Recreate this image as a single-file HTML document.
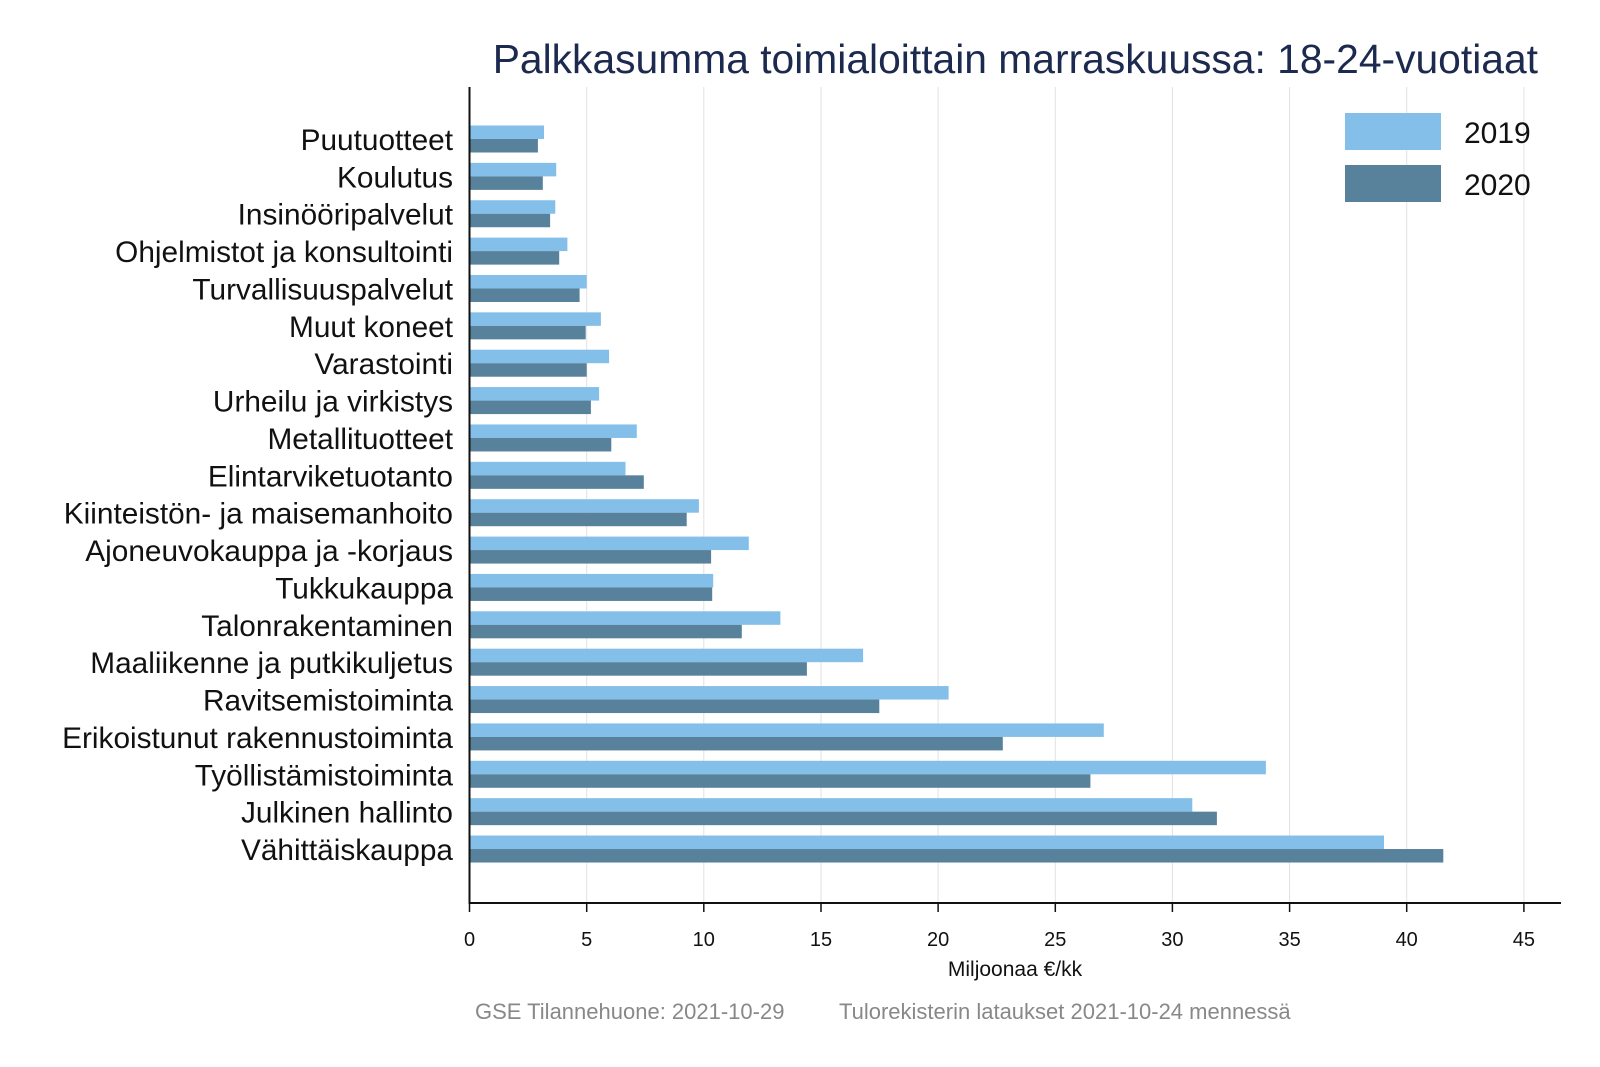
<!DOCTYPE html>
<html><head><meta charset="utf-8"><style>
html,body{margin:0;padding:0;background:#fff;}
svg{display:block;font-family:"Liberation Sans",sans-serif;}
</style></head><body>
<svg width="1600" height="1067" viewBox="0 0 1600 1067" xmlns="http://www.w3.org/2000/svg">
<rect width="1600" height="1067" fill="#fff"/>
<text x="1538" y="73" text-anchor="end" font-size="40.8" fill="#1c2a4f">Palkkasumma toimialoittain marraskuussa: 18-24-vuotiaat</text>
<g stroke="#e2e2e2" stroke-width="1">
<line x1="586.7" y1="87" x2="586.7" y2="903"/><line x1="703.8" y1="87" x2="703.8" y2="903"/>
<line x1="821" y1="87" x2="821" y2="903"/><line x1="938.1" y1="87" x2="938.1" y2="903"/>
<line x1="1055.3" y1="87" x2="1055.3" y2="903"/><line x1="1172.4" y1="87" x2="1172.4" y2="903"/>
<line x1="1289.6" y1="87" x2="1289.6" y2="903"/><line x1="1406.7" y1="87" x2="1406.7" y2="903"/>
<line x1="1523.9" y1="87" x2="1523.9" y2="903"/>
</g>
<g font-size="29.8" fill="#111" text-anchor="end">
<g transform="translate(0,139)"><rect x="469.5" y="-13.5" width="74.5" height="13.5" fill="#83bfe9"/><rect x="469.5" y="0" width="68.4" height="13.5" fill="#58819b"/><text x="453" y="11">Puutuotteet</text></g>
<g transform="translate(0,176.37)"><rect x="469.5" y="-13.5" width="86.7" height="13.5" fill="#83bfe9"/><rect x="469.5" y="0" width="73.3" height="13.5" fill="#58819b"/><text x="453" y="11">Koulutus</text></g>
<g transform="translate(0,213.74)"><rect x="469.5" y="-13.5" width="85.8" height="13.5" fill="#83bfe9"/><rect x="469.5" y="0" width="80.6" height="13.5" fill="#58819b"/><text x="453" y="11">Insinööripalvelut</text></g>
<g transform="translate(0,251.11)"><rect x="469.5" y="-13.5" width="97.9" height="13.5" fill="#83bfe9"/><rect x="469.5" y="0" width="89.7" height="13.5" fill="#58819b"/><text x="453" y="11">Ohjelmistot ja konsultointi</text></g>
<g transform="translate(0,288.48)"><rect x="469.5" y="-13.5" width="117.2" height="13.5" fill="#83bfe9"/><rect x="469.5" y="0" width="110.1" height="13.5" fill="#58819b"/><text x="453" y="11">Turvallisuuspalvelut</text></g>
<g transform="translate(0,325.85)"><rect x="469.5" y="-13.5" width="131.4" height="13.5" fill="#83bfe9"/><rect x="469.5" y="0" width="116.2" height="13.5" fill="#58819b"/><text x="453" y="11">Muut koneet</text></g>
<g transform="translate(0,363.22)"><rect x="469.5" y="-13.5" width="139.6" height="13.5" fill="#83bfe9"/><rect x="469.5" y="0" width="117.2" height="13.5" fill="#58819b"/><text x="453" y="11">Varastointi</text></g>
<g transform="translate(0,400.59)"><rect x="469.5" y="-13.5" width="129.6" height="13.5" fill="#83bfe9"/><rect x="469.5" y="0" width="121.4" height="13.5" fill="#58819b"/><text x="453" y="11">Urheilu ja virkistys</text></g>
<g transform="translate(0,437.96)"><rect x="469.5" y="-13.5" width="167.3" height="13.5" fill="#83bfe9"/><rect x="469.5" y="0" width="141.8" height="13.5" fill="#58819b"/><text x="453" y="11">Metallituotteet</text></g>
<g transform="translate(0,475.33)"><rect x="469.5" y="-13.5" width="156.0" height="13.5" fill="#83bfe9"/><rect x="469.5" y="0" width="174.3" height="13.5" fill="#58819b"/><text x="453" y="11">Elintarviketuotanto</text></g>
<g transform="translate(0,512.7)"><rect x="469.5" y="-13.5" width="229.4" height="13.5" fill="#83bfe9"/><rect x="469.5" y="0" width="217.2" height="13.5" fill="#58819b"/><text x="453" y="11">Kiinteistön- ja maisemanhoito</text></g>
<g transform="translate(0,550.07)"><rect x="469.5" y="-13.5" width="279.3" height="13.5" fill="#83bfe9"/><rect x="469.5" y="0" width="241.6" height="13.5" fill="#58819b"/><text x="453" y="11">Ajoneuvokauppa ja -korjaus</text></g>
<g transform="translate(0,587.44)"><rect x="469.5" y="-13.5" width="243.7" height="13.5" fill="#83bfe9"/><rect x="469.5" y="0" width="242.7" height="13.5" fill="#58819b"/><text x="453" y="11">Tukkukauppa</text></g>
<g transform="translate(0,624.81)"><rect x="469.5" y="-13.5" width="310.9" height="13.5" fill="#83bfe9"/><rect x="469.5" y="0" width="272.3" height="13.5" fill="#58819b"/><text x="453" y="11">Talonrakentaminen</text></g>
<g transform="translate(0,662.18)"><rect x="469.5" y="-13.5" width="393.6" height="13.5" fill="#83bfe9"/><rect x="469.5" y="0" width="337.4" height="13.5" fill="#58819b"/><text x="453" y="11">Maaliikenne ja putkikuljetus</text></g>
<g transform="translate(0,699.55)"><rect x="469.5" y="-13.5" width="479.1" height="13.5" fill="#83bfe9"/><rect x="469.5" y="0" width="409.8" height="13.5" fill="#58819b"/><text x="453" y="11">Ravitsemistoiminta</text></g>
<g transform="translate(0,736.92)"><rect x="469.5" y="-13.5" width="634.3" height="13.5" fill="#83bfe9"/><rect x="469.5" y="0" width="533.3" height="13.5" fill="#58819b"/><text x="453" y="11">Erikoistunut rakennustoiminta</text></g>
<g transform="translate(0,774.29)"><rect x="469.5" y="-13.5" width="796.4" height="13.5" fill="#83bfe9"/><rect x="469.5" y="0" width="620.9" height="13.5" fill="#58819b"/><text x="453" y="11">Työllistämistoiminta</text></g>
<g transform="translate(0,811.66)"><rect x="469.5" y="-13.5" width="722.8" height="13.5" fill="#83bfe9"/><rect x="469.5" y="0" width="747.4" height="13.5" fill="#58819b"/><text x="453" y="11">Julkinen hallinto</text></g>
<g transform="translate(0,849.03)"><rect x="469.5" y="-13.5" width="914.5" height="13.5" fill="#83bfe9"/><rect x="469.5" y="0" width="973.8" height="13.5" fill="#58819b"/><text x="453" y="11">Vähittäiskauppa</text></g>
</g>
<line x1="469.5" y1="87" x2="469.5" y2="904" stroke="#111" stroke-width="2"/>
<line x1="468.5" y1="903" x2="1561" y2="903" stroke="#111" stroke-width="2"/>
<g stroke="#111" stroke-width="1.5">
<line x1="469.5" y1="903" x2="469.5" y2="912"/><line x1="586.7" y1="903" x2="586.7" y2="912"/>
<line x1="703.8" y1="903" x2="703.8" y2="912"/><line x1="821" y1="903" x2="821" y2="912"/>
<line x1="938.1" y1="903" x2="938.1" y2="912"/><line x1="1055.3" y1="903" x2="1055.3" y2="912"/>
<line x1="1172.4" y1="903" x2="1172.4" y2="912"/><line x1="1289.6" y1="903" x2="1289.6" y2="912"/>
<line x1="1406.7" y1="903" x2="1406.7" y2="912"/><line x1="1523.9" y1="903" x2="1523.9" y2="912"/>
</g>
<g font-size="20" fill="#111" text-anchor="middle">
<text x="469.5" y="946">0</text><text x="586.7" y="946">5</text><text x="703.8" y="946">10</text>
<text x="821" y="946">15</text><text x="938.1" y="946">20</text><text x="1055.3" y="946">25</text>
<text x="1172.4" y="946">30</text><text x="1289.6" y="946">35</text><text x="1406.7" y="946">40</text>
<text x="1523.9" y="946">45</text>
</g>
<text x="1015" y="976" text-anchor="middle" font-size="21" fill="#111">Miljoonaa €/kk</text>
<text x="475" y="1019" font-size="22" fill="#888">GSE Tilannehuone: 2021-10-29</text>
<text x="839" y="1019" font-size="22" fill="#888">Tulorekisterin lataukset 2021-10-24 mennessä</text>
<rect x="1345" y="113" width="96" height="37" fill="#83bfe9"/>
<rect x="1345" y="165" width="96" height="37" fill="#58819b"/>
<text x="1464" y="143" font-size="30" fill="#111">2019</text>
<text x="1464" y="195" font-size="30" fill="#111">2020</text>
</svg>
</body></html>
